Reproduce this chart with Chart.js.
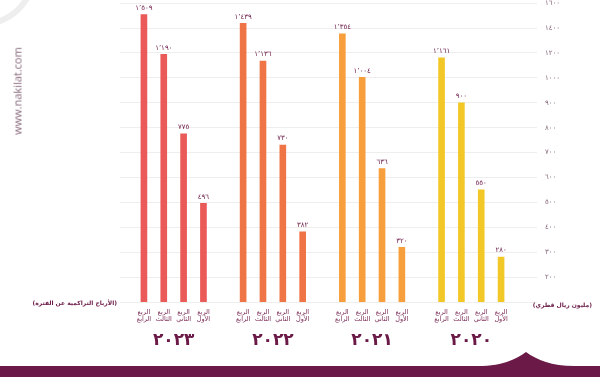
<!DOCTYPE html>
<html lang="ar">
<head>
<meta charset="utf-8">
<script src="https://cdn.jsdelivr.net/npm/chart.js@4/dist/chart.umd.min.js"></script>
<style>
  html, body { margin: 0; padding: 0; background: #ffffff; }
  #wrap { position: relative; width: 600px; height: 377px; overflow: hidden; font-family: "DejaVu Sans", sans-serif; }
  #chart { position: absolute; left: 0; top: -9px; }
  .note { position: absolute; color: #6b1a47; font-weight: bold; font-size: 6px; direction: rtl; white-space: nowrap; }
  #site { position: absolute; left: 17px; top: 91px; transform: translate(-50%, -50%) rotate(-90deg); color: #86677a; font-size: 11px; font-family: "Open Sans", sans-serif; white-space: nowrap; }
  svg.deco { position: absolute; left: 0; top: 0; pointer-events: none; }
</style>
</head>
<body>
<div id="wrap">
  <svg class="deco" width="600" height="377">
    <circle cx="-18" cy="-28" r="52" fill="none" stroke="#eeeeee" stroke-width="6"/>
    <path d="M0,366 L478,366 C500,366 515,360 526,352 C537,360 552,366 574,366 L600,366 L600,377 L0,377 Z" fill="#6b1a47"/>
  </svg>
  <canvas id="chart" width="600" height="386"></canvas>
  <div id="site">www.nakilat.com</div>
  <div class="note" style="right:483px; top:299px;">(الأرباح التراكمية عن الفترة)</div>
  <div class="note" style="right:8px; top:301px;">(مليون ريال قطري)</div>
</div>
<script>
  // ---- data (read from the infographic) ----
  var years = ['٢٠٢٣', '٢٠٢٢', '٢٠٢١', '٢٠٢٠'];
  var quarterNames = ['الرابع', 'الثالث', 'الثاني', 'الأول'];
  var profit2023 = [1509, 1190, 775, 496];
  var profit2022 = [1439, 1136, 730, 382];
  var profit2021 = [1354, 1004, 636, 320];
  var profit2020 = [1161, 900, 550, 280];
  var yTicks = [100, 200, 300, 400, 500, 600, 700, 800, 900, 1000, 1200, 1400, 1600];
  var yearColors = ['#e95a58', '#ef7546', '#f69f3c', '#f2c828'];

  var maroon = '#6b1a47';
  var digits = '٠١٢٣٤٥٦٧٨٩';
  function arabicNum(v, sep) {
    var s = String(v);
    if (sep && s.length > 3) s = s.slice(0, s.length - 3) + ',' + s.slice(-3);
    return s.replace(/[0-9]/g, function(d) { return digits[+d]; }).replace(',', '٬');
  }

  // one category per bar, empty slot between years
  var groups = [profit2023, profit2022, profit2021, profit2020];
  var labels = [], values = [], colors = [];
  groups.forEach(function(g, gi) {
    if (gi > 0) { labels.push(''); values.push(null); colors.push('rgba(0,0,0,0)'); }
    g.forEach(function(v, qi) {
      labels.push(['الربع', quarterNames[qi]]);
      values.push(v);
      colors.push(yearColors[gi]);
    });
  });

  // the infographic axis is not linear: ticks are evenly spaced
  class StepScale extends Chart.LinearScale {
    buildTicks() { return yTicks.map(function(v) { return { value: v }; }); }
    getPixelForValue(value) {
      if (value === null || isNaN(value)) return NaN;
      var t = yTicks, i = 0;
      while (i < t.length - 2 && value > t[i + 1]) i++;
      var pos = Math.max(0, i + (value - t[i]) / (t[i + 1] - t[i]));
      return this.getPixelForDecimal(pos / (t.length - 1));
    }
    getValueForPixel(pixel) {
      var pos = this.getDecimalForPixel(pixel) * (yTicks.length - 1);
      var i = Math.min(Math.max(Math.floor(pos), 0), yTicks.length - 2);
      return yTicks[i] + (pos - i) * (yTicks[i + 1] - yTicks[i]);
    }
  }
  StepScale.id = 'step';
  StepScale.defaults = Chart.LinearScale.defaults;
  Chart.register(StepScale);

  var valueLabels = {
    id: 'valueLabels',
    afterDatasetsDraw: function(chart) {
      var ctx = chart.ctx;
      var meta = chart.getDatasetMeta(0);
      ctx.save();
      ctx.font = '7px "DejaVu Sans", sans-serif';
      ctx.fillStyle = maroon;
      ctx.textAlign = 'center';
      ctx.textBaseline = 'bottom';
      meta.data.forEach(function(bar, i) {
        var v = values[i];
        if (v === null) return;
        ctx.fillText(arabicNum(v, true), bar.x, bar.y - 3);
      });
      ctx.restore();
    }
  };

  var gridColor = '#eeeeee';

  new Chart(document.getElementById('chart'), {
    type: 'bar',
    data: {
      labels: labels,
      datasets: [{
        data: values,
        backgroundColor: colors,
        barThickness: 6,
        xAxisID: 'x',
        yAxisID: 'y'
      }]
    },
    options: {
      responsive: false,
      animation: false,
      layout: { padding: { left: 120, right: 0, top: 0, bottom: 23 } },
      plugins: { legend: { display: false }, tooltip: { enabled: false } },
      scales: {
        x: {
          type: 'category',
          position: 'bottom',
          weight: 0,
          offset: true,
          grid: { display: false, drawTicks: false },
          border: { display: false },
          ticks: {
            color: '#7a2a55',
            font: { family: '"DejaVu Sans", sans-serif', size: 6.5 },
            maxRotation: 0,
            autoSkip: false,
            padding: 6
          },
          afterFit: function(s) { s.height = 24; }
        },
        x2: {
          type: 'linear',
          position: 'bottom',
          weight: 1,
          offset: false,
          min: -0.5,
          max: 18.5,
          grid: { display: false, drawTicks: false },
          border: { display: false },
          afterBuildTicks: function(s) {
            s.ticks = years.map(function(y, i) { return { value: i * 5 + 1.5 }; });
          },
          ticks: {
            autoSkip: false,
            maxRotation: 0,
            color: maroon,
            padding: 4,
            font: { family: '"DejaVu Sans", sans-serif', size: 17, weight: 'bold' },
            callback: function(v, i) { return years[i]; }
          },
          afterFit: function(s) { s.height = 28; }
        },
        y: {
          type: 'step',
          position: 'right',
          min: 100,
          max: 1600,
          grid: { color: gridColor, tickLength: 26 },
          border: { display: false },
          ticks: {
            color: '#86677a',
            padding: 8,
            font: { family: '"DejaVu Sans", sans-serif', size: 7 },
            callback: function(v) { return v === yTicks[0] ? '' : arabicNum(v, false); }
          },
          afterFit: function(s) { s.width = 89; }
        },
        yLeft: {
          type: 'step',
          position: 'left',
          min: 100,
          max: 1600,
          grid: { color: gridColor, tickLength: 14, drawOnChartArea: false },
          border: { display: false },
          ticks: { display: false },
          afterFit: function(s) { s.width = 14; }
        }
      }
    },
    plugins: [valueLabels]
  });
</script>
</body>
</html>
